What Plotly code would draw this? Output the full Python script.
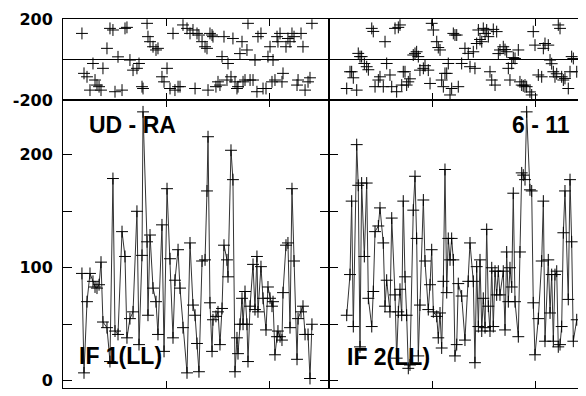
import plotly.graph_objects as go

# time (hours from start of plot window), amplitude and phase per IF
t_if1 = [0.184, 0.204, 0.233, 0.262, 0.291, 0.311, 0.330, 0.350, 0.369, 0.388,
         0.427, 0.456, 0.485, 0.505, 0.534, 0.573, 0.602, 0.621, 0.650, 0.680,
         0.718, 0.738, 0.767, 0.777, 0.816, 0.825, 0.845, 0.874, 0.903, 0.922,
         0.961, 0.981, 1.010, 1.039, 1.068, 1.087, 1.117, 1.136, 1.165, 1.204,
         1.233, 1.262, 1.282, 1.301, 1.320,
         1.350, 1.379, 1.398, 1.408, 1.427, 1.447, 1.456, 1.485, 1.505, 1.524,
         1.544, 1.563, 1.592, 1.602, 1.631, 1.650, 1.670, 1.689, 1.699, 1.718,
         1.738, 1.748, 1.767, 1.786, 1.796, 1.816, 1.845, 1.864, 1.883, 1.893,
         1.922, 1.942, 1.971, 1.990, 2.010, 2.029, 2.039, 2.058, 2.078, 2.087,
         2.107, 2.126, 2.136, 2.165, 2.184, 2.204, 2.223, 2.243, 2.272, 2.282,
         2.311, 2.330, 2.350, 2.379, 2.398, 2.417]
amp_if1 = [95, 7, 70, 95, 88, 83, 82, 85, 105, 52,
           47, 17, 179, 44, 41, 132, 110, 38, 55, 61,
           150, 32, 111, 238, 123, 58, 129, 82, 70, 41,
           138, 26, 170, 108, 38, 89, 116, 82, 47, 7,
           122, 67, 58, 33, 8,
           106, 107, 168, 216, 69, 26, 54, 57, 61, 32,
           64, 120, 107, 92, 204, 178, 8, 38, 24, 50,
           73, 50, 79, 50, 17, 66, 103, 63, 110, 61,
           101, 73, 45, 83, 73, 66, 70, 23, 39, 44,
           39, 36, 78, 120, 122, 47, 170, 106, 19, 55,
           61, 66, 41, 41, 2, 50]
ph_if1 = [130, -68, -85, -151, -19, -101, -126, -134, -151, -43,
          56, 155, 147, -159, 14, -151, 155, 160, -2, -52,
          -43, -19, -134, -143, 180, 114, 89, 64, 48, 56,
          -85, -110, -43, -143, 130, -151, -134, -134, 172, 155,
          130, 147, -143, 130, 122,
          89, 64, 56, -151, 130, 122, 114, -134, -110, -126,
          15, 114, -101, -19, -85, 105, -110, -143, -134, 30,
          89, -110, -101, 48, 180, -101, -101, -2, -159, 114,
          130, -143, -143, 15, 64, -110, -2, -101, 114, 89,
          130, -110, -68, 64, 105, 89, 130, 114, -126, -101,
          130, 64, -151, -110, -90, 180]

t_if2 = [0.172, 0.204, 0.220, 0.236, 0.269, 0.284, 0.301, 0.317, 0.343, 0.366,
         0.382, 0.415, 0.430, 0.447, 0.479, 0.495, 0.527, 0.544, 0.560, 0.592,
         0.609, 0.641, 0.657, 0.673, 0.689, 0.706, 0.721, 0.738, 0.754, 0.770,
         0.786, 0.818, 0.835, 0.851, 0.867, 0.883, 0.916, 0.932, 0.964, 0.981,
         0.997, 1.013, 1.046, 1.061, 1.078, 1.094, 1.110, 1.126, 1.143, 1.158,
         1.175, 1.191, 1.207, 1.223, 1.240, 1.255,
         1.288, 1.320, 1.352, 1.369, 1.401, 1.417, 1.434, 1.450, 1.466, 1.483,
         1.498, 1.515, 1.531, 1.547, 1.563, 1.580, 1.595, 1.612, 1.628, 1.644,
         1.660, 1.692, 1.709, 1.725, 1.741, 1.757, 1.774, 1.789, 1.806, 1.838,
         1.854, 1.871, 1.886, 1.903, 1.919, 1.951, 1.968, 1.983, 2.000, 2.032,
         2.065, 2.081, 2.097, 2.129, 2.146, 2.162, 2.178, 2.194, 2.211, 2.226,
         2.243, 2.259, 2.275, 2.291, 2.323, 2.340, 2.356, 2.372, 2.405]
amp_if2 = [58, 94, 159, 48, 209, 173, 30, 175, 110, 175,
           73, 48, 79, 132, 137, 153, 122, 66, 89, 61,
           144, 76, 20, 61, 81, 58, 159, 92, 58, 11,
           14, 151, 181, 126, 22, 67, 160, 106, 63, 85,
           116, 61, 57, 38, 60, 29, 88, 187, 78, 126,
           107, 126, 107, 22, 32, 86,
           75, 36, 88, 122, 88, 16, 101, 48, 107, 44,
           73, 47, 134, 66, 44, 100, 48, 97, 76, 97,
           76, 97, 45, 114, 70, 100, 83, 166, 70, 39,
           114, 184, 182, 178, 238, 169, 168, 69, 23, 55,
           106, 159, 35, 107, 60, 94, 35, 94, 97, 30,
           32, 48, 131, 168, 72, 178, 123, 35, 54]
ph_if2 = [-143, -60, -60, -90, -151, 31, 15, 15, -19, -35,
          -50, 155, 140, -134, -101, -85, -134, 89, -19, -76,
          -134, 155, -159, 160, 172, -126, -60, -60, -126, -110,
          -95, 23, 31, 39, 15, -52, -43, -30, -52, -118,
          180, 147, 89, 60, 48, -101, -134, -68, -68, -19,
          -175, -143, 130, 122, 122, -134,
          -19, 56, 31, -35, 39, -43, 80, 147, 100, 89,
          155, 130, 147, 114, -60, -101, 150, -126, 139, 30,
          48, 64, 50, 39, -43, -101, -19, 10, 6, 48,
          -110, -126, -130, -126, -134, -160, -175, 139, 72, -76,
          -85, 56, 80, 72, -2, -20, -60, -85, -70, 172,
          155, -85, -101, -93, -143, -60, 15, 6, -60]

# the page puts the figure 8px in from the top-left corner of the window
OFF = 8
W, H = 586 - OFF, 396 - OFF


def fx(px):
    return (px - OFF) / W


def fy(py):
    return 1 - (py - OFF) / H


xl0, xmid, xr = fx(63), fx(329), 1.0
ytop0, ytop1 = fy(100), fy(19.3)
ybot0 = fy(388)

mk = dict(symbol="cross-thin", size=8.5, color="black", line=dict(width=1, color="black"))
ln = dict(color="#333333", width=1)

fig = go.Figure()
fig.add_trace(go.Scatter(x=t_if1, y=amp_if1, mode="lines+markers", marker=mk, line=ln,
                         xaxis="x", yaxis="y"))
fig.add_trace(go.Scatter(x=t_if2, y=amp_if2, mode="lines+markers", marker=mk, line=ln,
                         xaxis="x2", yaxis="y2"))
fig.add_trace(go.Scatter(x=t_if1, y=ph_if1, mode="markers", marker=mk,
                         xaxis="x3", yaxis="y3"))
fig.add_trace(go.Scatter(x=t_if2, y=ph_if2, mode="markers", marker=mk,
                         xaxis="x4", yaxis="y4"))

tickfont = dict(family="DejaVu Sans", size=16, color="black", weight="bold")
xcommon = dict(showgrid=False, zeroline=False, showline=True, linecolor="black", linewidth=1,
               mirror="ticks", ticks="inside", ticklen=7, tickcolor="black",
               tickvals=[1, 2], showticklabels=False, automargin=False)
ycommon = dict(showgrid=False, showline=True, linecolor="black", linewidth=1,
               ticks="inside", ticklen=9, tickcolor="black", tickfont=tickfont,
               automargin=False, ticklabelstandoff=6)

amp_ticks = [0, 50, 100, 150, 200]
amp_text = ["0", "", "100", "", "200"]
ph_ticks = [-200, 0, 200]
ph_text = ["-200", "", "200"]

fig.update_layout(
    width=W, height=H,
    margin=dict(l=0, r=0, t=0, b=0),
    paper_bgcolor="white", plot_bgcolor="white",
    showlegend=False,
    xaxis=dict(xcommon, domain=[xl0, xmid], range=[0, 266 / 103], anchor="y"),
    yaxis=dict(ycommon, domain=[ybot0, ytop0], range=[-6.4, 248.5], anchor="x",
               mirror="ticks", zeroline=False, tickvals=amp_ticks, ticktext=amp_text),
    xaxis2=dict(xcommon, domain=[xmid, xr], range=[0, 257 / 103], anchor="y2"),
    yaxis2=dict(ycommon, domain=[ybot0, ytop0], range=[-6.4, 248.5], anchor="x2",
                mirror=False, zeroline=False, tickvals=amp_ticks, showticklabels=False),
    xaxis3=dict(xcommon, domain=[xl0, xmid], range=[0, 266 / 103], anchor="y3"),
    yaxis3=dict(ycommon, domain=[ytop0, ytop1], range=[-200, 200], anchor="x3",
                mirror="ticks", zeroline=True, zerolinecolor="black", zerolinewidth=1,
                tickvals=ph_ticks, ticktext=ph_text),
    xaxis4=dict(xcommon, domain=[xmid, xr], range=[0, 257 / 103], anchor="y4"),
    yaxis4=dict(ycommon, domain=[ytop0, ytop1], range=[-200, 200], anchor="x4",
                mirror=False, zeroline=True, zerolinecolor="black", zerolinewidth=1,
                tickvals=ph_ticks, showticklabels=False),
)

labfont = dict(family="Liberation Sans, Arial", size=23, color="black", weight="bold")
labels = [
    ("UD - RA", fx(87), fy(125), "left"),
    ("6 - 11", fx(572), fy(125), "right"),
    ("IF 1(LL)", fx(77), fy(356), "left"),
    ("IF 2(LL)", fx(345), fy(357), "left"),
]
for txt, x, y, xa in labels:
    fig.add_annotation(text=txt, x=x, y=y, xref="paper", yref="paper", xanchor=xa,
                       yanchor="middle", showarrow=False, font=labfont)

fig.write_html("out.html")
